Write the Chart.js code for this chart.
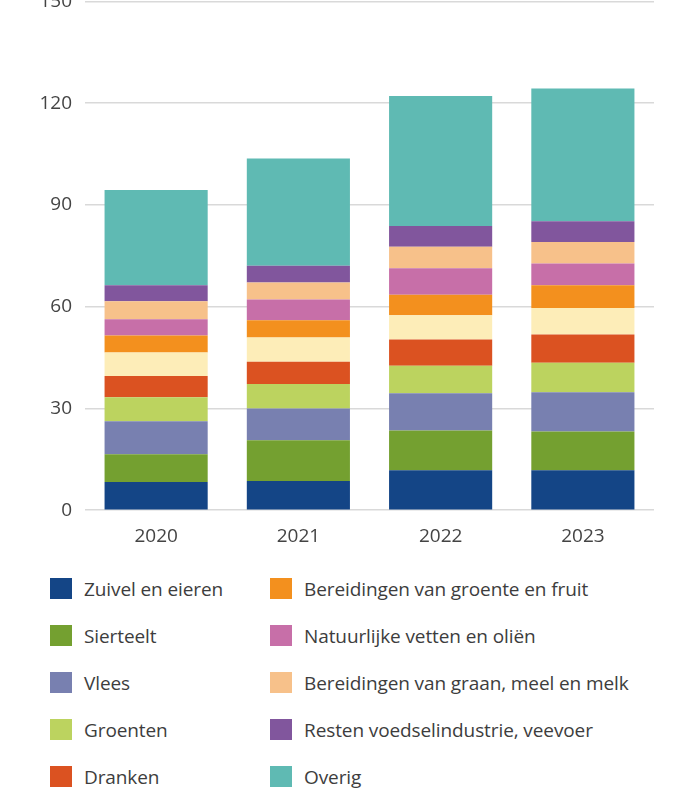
<!DOCTYPE html>
<html lang="nl">
<head>
  <meta charset="UTF-8" />
  <title>Landbouwexport per productgroep</title>
  <script src="https://cdn.jsdelivr.net/npm/chart.js"></script>
  <style>
    html, body { margin: 0; padding: 0; background: #fff; overflow: hidden; }
    body { width: 677px; height: 792px; position: relative; font-family: "Open Sans", sans-serif; }
    .grafiek { position: absolute; left: 0; top: -23px; width: 677px; height: 586px; }
    .legenda {
      position: absolute; left: 50px; top: 578px;
      display: grid; grid-auto-flow: column;
      grid-template-rows: repeat(6, 47px);
      grid-template-columns: 220px 380px;
    }
    .legenda div { display: flex; align-items: flex-start; font-size: 19px; color: #3d3d3d; line-height: 22px; white-space: nowrap; letter-spacing: -0.1px; }
    .legenda span { display: inline-block; width: 22px; height: 21px; margin-right: 12px; flex: none; }
  </style>
</head>
<body>
  <div class="grafiek"><canvas id="chartExport"></canvas></div>
  <div class="legenda" id="legenda"></div>

  <script>
    // jaren en waarden per productgroep (gestapeld, van onder naar boven)
    const jaren = ['2020', '2021', '2022', '2023'];

    const zuivel      = [8.3, 8.6, 11.8, 11.8];
    const sierteelt   = [8.2, 12.0, 11.7, 11.4];
    const vlees       = [9.7, 9.4, 11.0, 11.6];
    const groenten    = [7.1, 7.2, 8.1, 8.7];
    const dranken     = [6.3, 6.6, 7.7, 8.3];
    const fruit       = [6.9, 7.1, 7.2, 7.8];
    const bereidGF    = [5.0, 5.1, 6.0, 6.7];
    const vetten      = [4.8, 6.1, 7.8, 6.4];
    const bereidGraan = [5.3, 5.0, 6.4, 6.4];
    const resten      = [4.7, 5.0, 6.1, 6.1];
    const overig      = [28.1, 31.6, 38.3, 39.1];

    const yTicks = [0, 30, 60, 90, 120, 150];

    const reeksen = [
      { label: 'Zuivel en eieren', data: zuivel, kleur: '#144586' },
      { label: 'Sierteelt', data: sierteelt, kleur: '#74a030' },
      { label: 'Vlees', data: vlees, kleur: '#7880b0' },
      { label: 'Groenten', data: groenten, kleur: '#bcd35f' },
      { label: 'Dranken', data: dranken, kleur: '#db5221' },
      { label: 'Fruit', data: fruit, kleur: '#fdedb8' },
      { label: 'Bereidingen van groente en fruit', data: bereidGF, kleur: '#f3901e' },
      { label: 'Natuurlijke vetten en oliën', data: vetten, kleur: '#c76fa8' },
      { label: 'Bereidingen van graan, meel en melk', data: bereidGraan, kleur: '#f7c18a' },
      { label: 'Resten voedselindustrie, veevoer', data: resten, kleur: '#81569d' },
      { label: 'Overig', data: overig, kleur: '#5fbab3' }
    ];

    const tekstKleur = '#444';
    const lettertype = { family: '"Open Sans", sans-serif', size: 19 };

    new Chart(document.getElementById('chartExport'), {
      type: 'bar',
      data: {
        labels: jaren,
        datasets: reeksen.map(r => ({
          label: r.label,
          data: r.data,
          backgroundColor: r.kleur,
          borderWidth: 0,
          categoryPercentage: 1,
          barPercentage: 0.725
        }))
      },
      options: {
        responsive: true,
        maintainAspectRatio: false,
        animation: false,
        layout: { padding: { left: 0, right: 23, top: 0, bottom: 0 } },
        plugins: {
          legend: { display: false },
          tooltip: { enabled: false }
        },
        scales: {
          x: {
            stacked: true,
            grid: { display: false, drawTicks: false },
            border: { display: false },
            ticks: { color: tekstKleur, font: lettertype, padding: 15 }
          },
          y: {
            stacked: true,
            min: yTicks[0],
            max: yTicks[yTicks.length - 1],
            afterFit: axis => { axis.width = 85; },
            afterBuildTicks: axis => { axis.ticks = yTicks.map(v => ({ value: v })); },
            grid: { color: '#d9d9d9', lineWidth: 1.5, drawTicks: false },
            border: { display: false },
            ticks: { color: tekstKleur, font: lettertype, padding: 13 }
          }
        }
      }
    });

    // legenda in twee kolommen, kolom voor kolom gevuld
    const legenda = document.getElementById('legenda');
    reeksen.forEach(r => {
      const item = document.createElement('div');
      item.innerHTML = `<span style="background:${r.kleur}"></span>${r.label}`;
      legenda.appendChild(item);
    });
  </script>
</body>
</html>
